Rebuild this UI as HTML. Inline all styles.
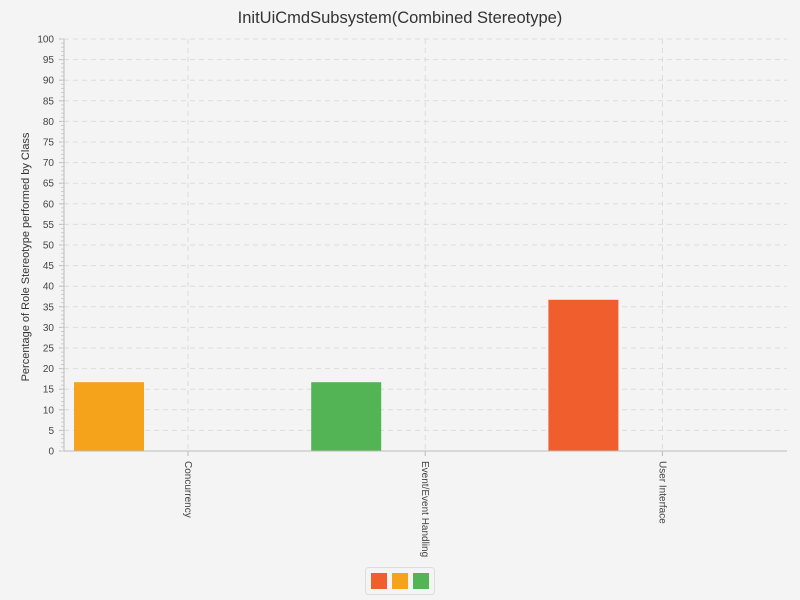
<!DOCTYPE html>
<html><head><meta charset="utf-8"><style>
html,body{margin:0;background:#f4f4f4;font-family:"Liberation Sans",sans-serif;overflow:hidden}
svg{display:block}
</style></head><body>
<svg id="c" width="800" height="600" xmlns="http://www.w3.org/2000/svg"></svg>
<script>
const categories=["Concurrency","Event/Event Handling","User Interface"];
const values=[16.7,16.7,36.7];
const barColors=["#f5a31a","#52b454","#ef5e2c"];
const yTicks=[0,5,10,15,20,25,30,35,40,45,50,55,60,65,70,75,80,85,90,95,100];
const legendColors=["#ef5e2c","#f5a31a","#52b454"];
const NS="http://www.w3.org/2000/svg";
const svg=document.getElementById('c');
const x0=64,x1=787,yTop=39,yBot=451;
const y=v=>yBot-(v/100)*(yBot-yTop);
const catX=i=>188+i*237.2;
function mk(t,a,p){const e=document.createElementNS(NS,t);for(const k in a)e.setAttribute(k,a[k]);(p||svg).appendChild(e);return e;}
let t=mk('text',{x:400,y:23,'text-anchor':'middle','font-size':16.5,fill:'#333'});t.textContent="InitUiCmdSubsystem(Combined Stereotype)";


yTicks.forEach(v=>{
 if(v>0){const g=mk('line',{x1:x0,x2:x1,y1:y(v),y2:y(v),stroke:'#dcdcdc','stroke-dasharray':'5,4'});
 
 }
 const l=mk('text',{x:54,y:y(v)+3.5,'text-anchor':'end','font-size':10,fill:'#444'});l.textContent=v;
 
 
 mk('line',{x1:x0-5,x2:x0,y1:y(v),y2:y(v),stroke:'#bbb'});
});
for(let v=0;v<=100;v++){mk('line',{x1:x0-3,x2:x0,y1:y(v),y2:y(v),stroke:'#ccc'});}
categories.forEach((c,i)=>{
 const g=mk('line',{x1:catX(i),x2:catX(i),y1:yTop,y2:yBot,stroke:'#dcdcdc','stroke-dasharray':'5,4'});
 
 
 mk('line',{x1:catX(i),x2:catX(i),y1:yBot,y2:yBot+5,stroke:'#bbb'});
 const b=mk('rect',{x:catX(i)-114,y:y(values[i]),width:70,height:yBot-y(values[i]),fill:barColors[i]});
 
 
 const l=mk('text',{x:0,y:0,'font-size':10,fill:'#444',transform:`translate(${catX(i)-3},461) rotate(90)`});l.textContent=c;
 
 
});
mk('line',{x1:x0,x2:x0,y1:yTop,y2:yBot,stroke:'#bbb'});
mk('line',{x1:x0,x2:x1,y1:yBot,y2:yBot,stroke:'#bbb'});
const yt=mk('text',{x:0,y:0,'text-anchor':'middle','font-size':11,fill:'#333',transform:'translate(29,257) rotate(-90)'});yt.textContent="Percentage of Role Stereotype performed by Class";


const lg=mk('rect',{x:365.5,y:567.5,width:69,height:27,rx:3,fill:'#f4f4f4',stroke:'#ddd'});


legendColors.forEach((c,i)=>{const s=mk('rect',{x:371+i*21,y:573,width:16,height:16,fill:c});
 
 });
</script>
</body></html>
